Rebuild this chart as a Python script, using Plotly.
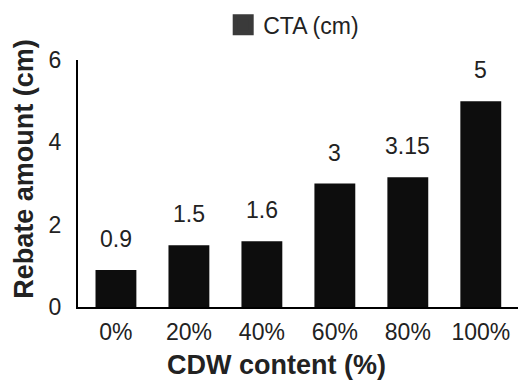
import plotly.graph_objects as go

categories = ["0%", "20%", "40%", "60%", "80%", "100%"]
cta_values = [0.9, 1.5, 1.6, 3.0, 3.15, 5.0]
value_labels = ["0.9", "1.5", "1.6", "3", "3.15", "5"]
series_name = "CTA (cm)"
x_title = "CDW content (%)"
y_title = "Rebate amount (cm)"

FONT = "Liberation Sans, Arial, sans-serif"

fig = go.Figure()
fig.add_trace(go.Bar(
    x=categories, y=cta_values,
    marker=dict(color="#0d0d0d", line=dict(width=0)),
    width=0.56, showlegend=False,
))
fig.add_trace(go.Scatter(
    x=[None], y=[None], mode="markers", name=series_name,
    marker=dict(symbol="square", size=16, color="#3a3a3a",
                line=dict(color="#3a3a3a", width=5)),
))

for c, v, t in zip(categories, cta_values, value_labels):
    fig.add_annotation(x=c, y=v, text=t, showarrow=False, yanchor="bottom",
                       yshift=16, font=dict(size=23, color="#222"))

# axis titles (placed slightly off-center as in the reference)
fig.add_annotation(xref="paper", yref="paper", x=0.451, y=-0.235,
                   text="<b>" + x_title + "</b>", showarrow=False,
                   xanchor="center", yanchor="middle",
                   font=dict(size=27, color="#222"))
fig.add_annotation(xref="paper", yref="paper", x=-0.123, y=0.559,
                   text="<b>" + y_title + "</b>", showarrow=False, textangle=-90,
                   xanchor="center", yanchor="middle",
                   font=dict(size=27, color="#222"))

fig.update_layout(
    width=519, height=385,
    margin=dict(l=78, r=1, t=60, b=78),
    plot_bgcolor="white", paper_bgcolor="white",
    font=dict(family=FONT, size=23, color="#222"),
    showlegend=True,
    legend=dict(x=0.33, y=1.143, xanchor="left", yanchor="middle",
                font=dict(size=23, color="#222"), bgcolor="rgba(0,0,0,0)",
                itemsizing="trace"),
    xaxis=dict(
        range=[-0.52, 5.51], showline=True, linecolor="black", linewidth=2,
        ticks="", ticklabelstandoff=3, showgrid=False, zeroline=False,
    ),
    yaxis=dict(
        range=[0, 6], tickvals=[0, 2, 4, 6], showline=True, linecolor="black", linewidth=2,
        ticks="", ticklabelstandoff=10, showgrid=False, zeroline=False,
    ),
)

fig.write_html("out.html")
